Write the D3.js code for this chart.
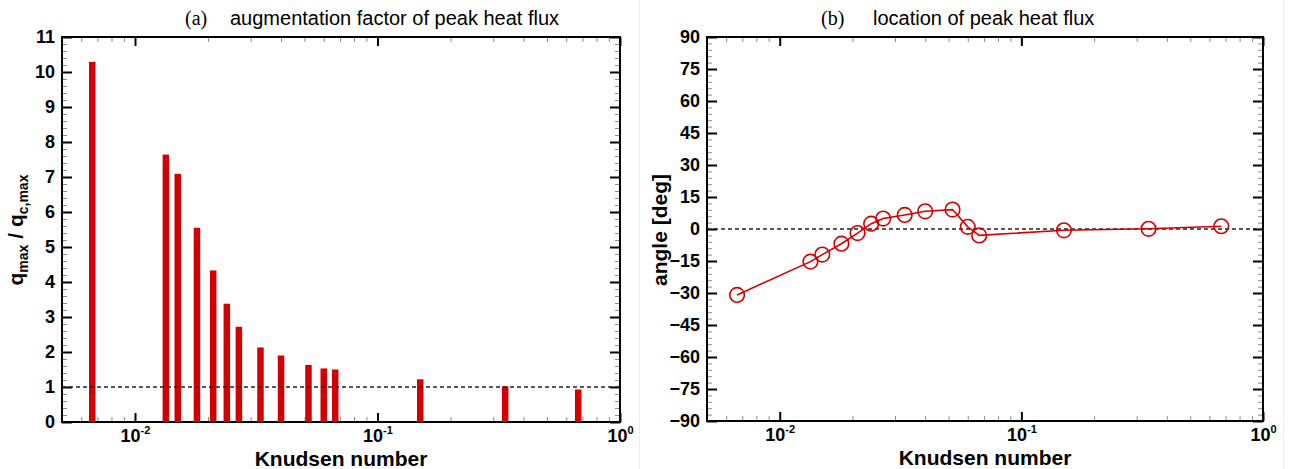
<!DOCTYPE html>
<html>
<head>
<meta charset="utf-8">
<script src="https://cdn.jsdelivr.net/npm/d3@7"></script>
<style>
  body { margin: 0; background: #fff; }
  svg text { font-family: "Liberation Sans", Arial, sans-serif; }
</style>
</head>
<body>
<div id="chart"></div>
<script>
// Knudsen numbers of the cases (shared by both panels)
const knudsen = [0.00666, 0.0134, 0.0150, 0.0180, 0.0210, 0.0239, 0.0268, 0.0329,
                 0.0400, 0.0519, 0.0600, 0.0669, 0.150, 0.336, 0.672];
// (a) augmentation factor q_max / q_c,max
const augmentation = [10.29, 7.64, 7.09, 5.55, 4.33, 3.38, 2.72, 2.13,
                      1.90, 1.63, 1.53, 1.50, 1.22, 1.02, 0.93];
// (b) location of peak heat flux [deg]
const angle = [-30.9, -15.3, -12.0, -6.9, -1.9, 2.5, 4.9, 6.6,
               8.3, 9.1, 1.0, -3.0, -0.6, 0.1, 1.3];

const knTicks    = [0.01, 0.1, 1];
const knExponent = ["-2", "-1", "0"];
const augTicks   = [0, 1, 2, 3, 4, 5, 6, 7, 8, 9, 10, 11];
const angleTicks = [-90, -75, -60, -45, -30, -15, 0, 15, 30, 45, 60, 75, 90];

const svg = d3.select("#chart")
              .append("svg")
              .attr("width", 1297)
              .attr("height", 469);

// faint borders of the two original images
[639.5, 1283.5].forEach(xp => {
    svg.append("line")
       .attr("x1", xp).attr("x2", xp)
       .attr("y1", 0).attr("y2", 469)
       .attr("stroke", "#ececec");
});

function drawPanel(box, yDomain, yMajor, yMinorStep) {
    const w = box.right - box.left;
    const h = box.bottom - box.top;
    const g = svg.append("g")
                 .attr("transform", `translate(${box.left}, ${box.top})`);

    const x = d3.scaleLog().domain([0.005, 1]).range([0, w]);
    const y = d3.scaleLinear().domain(yDomain).range([h, 0]);

    const isMajor = t => Math.abs(Math.log10(t) - Math.round(Math.log10(t))) < 1e-6;
    const xMinor = x.ticks().filter(t => !isMajor(t) && t > 0.0051);
    const yMinor = d3.range(yDomain[0], yDomain[1] + 1e-9, yMinorStep)
                     .filter(v => !yMajor.some(m => Math.abs(m - v) < 1e-9));

    const styleMinor = sel => {
        sel.select(".domain").remove();
        sel.selectAll("line").attr("stroke", "#8c8c8c").attr("stroke-width", 1);
    };
    const styleMajor = sel => {
        sel.select(".domain").remove();
        sel.selectAll("line").attr("stroke", "#000").attr("stroke-width", 2);
    };

    // minor ticks on all four sides
    g.append("g").attr("transform", `translate(0, ${h})`)
     .call(d3.axisBottom(x).tickValues(xMinor).tickSize(-5).tickFormat(""))
     .call(styleMinor);
    g.append("g")
     .call(d3.axisTop(x).tickValues(xMinor).tickSize(-5).tickFormat(""))
     .call(styleMinor);
    g.append("g")
     .call(d3.axisLeft(y).tickValues(yMinor).tickSize(-5).tickFormat(""))
     .call(styleMinor);
    g.append("g").attr("transform", `translate(${w}, 0)`)
     .call(d3.axisRight(y).tickValues(yMinor).tickSize(-5).tickFormat(""))
     .call(styleMinor);

    // major ticks
    const xb = g.append("g").attr("transform", `translate(0, ${h})`)
                .call(d3.axisBottom(x).tickValues(knTicks).tickSize(-9).tickFormat(""))
                .call(styleMajor);
    g.append("g")
     .call(d3.axisTop(x).tickValues(knTicks).tickSize(-9).tickFormat(""))
     .call(styleMajor);
    const yl = g.append("g")
                .call(d3.axisLeft(y).tickValues(yMajor).tickSize(-10).tickPadding(7))
                .call(styleMajor);
    yl.selectAll("text")
      .attr("font-size", 18)
      .attr("font-weight", "bold")
      .attr("fill", "#000");
    g.append("g").attr("transform", `translate(${w}, 0)`)
     .call(d3.axisRight(y).tickValues(yMajor).tickSize(-10).tickFormat(""))
     .call(styleMajor);

    // log tick labels 10^n
    xb.selectAll(".tick").each(function(d, i) {
        const t = d3.select(this).append("text")
                    .attr("y", 20)
                    .attr("text-anchor", "middle")
                    .attr("font-size", 18)
                    .attr("font-weight", "bold")
                    .attr("fill", "#000");
        t.append("tspan").text("10");
        t.append("tspan").attr("dy", -8).attr("font-size", 11).text(knExponent[i]);
    });

    // frame
    g.append("rect")
     .attr("width", w).attr("height", h)
     .attr("fill", "none")
     .attr("stroke", "#000")
     .attr("stroke-width", 2);

    // x axis title
    g.append("text")
     .attr("x", w / 2).attr("y", h + 44)
     .attr("text-anchor", "middle")
     .attr("font-size", 21)
     .attr("font-weight", "bold")
     .text("Knudsen number");

    return { g, x, y, w, h };
}

// ---------- (a) ----------
const A = drawPanel({ left: 62, right: 620, top: 37, bottom: 422 }, [0, 11], augTicks, 0.2);

A.g.selectAll("rect.bar")
   .data(d3.zip(knudsen, augmentation))
   .join("rect")
   .attr("class", "bar")
   .attr("x", d => A.x(d[0]) - 3.2)
   .attr("width", 6.5)
   .attr("y", d => A.y(d[1]))
   .attr("height", d => A.h - A.y(d[1]))
   .attr("fill", "#d40000");

A.g.append("line")
   .attr("x1", 0).attr("x2", A.w)
   .attr("y1", A.y(1)).attr("y2", A.y(1))
   .attr("stroke", "#222")
   .attr("stroke-width", 1.3)
   .attr("stroke-dasharray", "4,3");

// ---------- (b) ----------
const B = drawPanel({ left: 707, right: 1263, top: 37, bottom: 421 }, [-90, 90], angleTicks, 3);

B.g.append("line")
   .attr("x1", 0).attr("x2", B.w)
   .attr("y1", B.y(0)).attr("y2", B.y(0))
   .attr("stroke", "#222")
   .attr("stroke-width", 1.3)
   .attr("stroke-dasharray", "4,3");

const pts = d3.zip(knudsen, angle);
B.g.append("path")
   .datum(pts)
   .attr("fill", "none")
   .attr("stroke", "#d40000")
   .attr("stroke-width", 1.6)
   .attr("d", d3.line().x(d => B.x(d[0])).y(d => B.y(d[1])));

B.g.selectAll("circle")
   .data(pts)
   .join("circle")
   .attr("cx", d => B.x(d[0]))
   .attr("cy", d => B.y(d[1]))
   .attr("r", 7.3)
   .attr("fill", "none")
   .attr("stroke", "#d40000")
   .attr("stroke-width", 1.6);

// ---------- titles ----------
function title(tagX, textX, tag, text) {
    svg.append("text")
       .attr("x", tagX).attr("y", 25)
       .attr("font-size", 20)
       .style("font-family", "'Liberation Serif', 'Times New Roman', serif")
       .text(tag);
    svg.append("text")
       .attr("x", textX).attr("y", 25)
       .attr("font-size", 20)
       .text(text);
}
title(185, 230, "(a)", "augmentation factor of peak heat flux");
title(821, 873, "(b)", "location of peak heat flux");

// ---------- y axis titles ----------
const yt = svg.append("text")
              .attr("transform", "translate(23, 230) rotate(-90)")
              .attr("text-anchor", "middle")
              .attr("font-size", 21)
              .attr("font-weight", "bold");
yt.append("tspan").text("q");
yt.append("tspan").attr("font-size", 14).attr("dy", 5).text("max");
yt.append("tspan").attr("dy", -5).text(" / q");
yt.append("tspan").attr("font-size", 14).attr("dy", 5).text("c,max");

svg.append("text")
   .attr("transform", "translate(667, 230) rotate(-90)")
   .attr("text-anchor", "middle")
   .attr("font-size", 21)
   .attr("font-weight", "bold")
   .text("angle [deg]");
</script>
</body>
</html>
